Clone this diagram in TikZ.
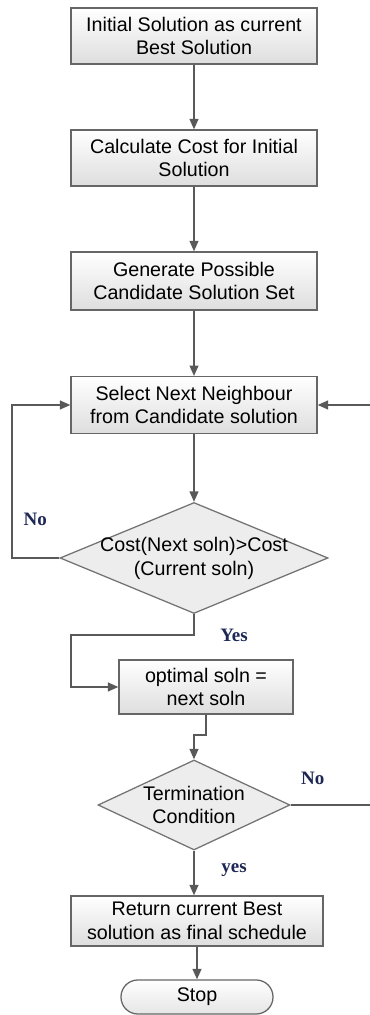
\documentclass[tikz,border=0pt]{standalone}
\usepackage{fontspec}
\setmainfont{Liberation Sans}
\newfontfamily\labelfont{Liberation Serif}
\usetikzlibrary{shapes.geometric,arrows.meta}
\definecolor{LabelBlue}{RGB}{30,40,85}
\begin{document}
\begin{tikzpicture}
[
Process/.style={rectangle,draw=black!60,top color=white,bottom color=black!13, line width=0.9pt, align=center, inner sep=0pt, font=\fontsize{14}{17}\selectfont},
Decision/.style={diamond,draw=black!55,fill=black!7, line width=0.9pt, inner sep=0pt},
DecisionText/.style={align=center, inner sep=0pt, font=\fontsize{14}{17}\selectfont},
Terminal/.style={rectangle,rounded corners=0.42cm,draw=black!60,top color=white,bottom color=black!10, line width=0.9pt, minimum width=3.8cm, minimum height=0.85cm, font=\fontsize{14}{17}\selectfont},
FlowArrow/.style={-{Triangle[length=2.6mm,width=2.2mm]}, draw=black!65, line width=1.1pt},
Label/.style={font=\labelfont\bfseries\fontsize{13.5}{16}\selectfont, text=LabelBlue},
]

\useasboundingbox (0,0) rectangle (9.25,25.375);

\node[Process, minimum width=6.15cm, minimum height=1.4cm] (init) at (4.85,24.475) {Initial Solution as current\\Best Solution};
\node[Process, minimum width=6.15cm, minimum height=1.4cm] (calc) at (4.85,21.425) {Calculate Cost for Initial\\Solution};
\node[Process, minimum width=6.15cm, minimum height=1.45cm] (gen) at (4.85,18.35) {Generate Possible\\Candidate Solution Set};
\node[Process, minimum width=6.15cm, minimum height=1.42cm] (select) at (4.85,15.25) {Select Next Neighbour\\from Candidate solution};

\node[Decision, minimum width=6.7cm, minimum height=2.775cm] (cost) at (4.85,11.425) {};
\node[DecisionText] (costtext) at (cost.center) {Cost(Next soln)>Cost\\(Current soln)};

\node[Process, minimum width=4.35cm, minimum height=1.35cm] (optimal) at (5.15,8.2) {optimal soln =\\next soln};

\node[Decision, minimum width=4.8cm, minimum height=2.25cm] (term) at (4.85,5.25) {};
\node[DecisionText] (termtext) at (term.center) {Termination\\Condition};

\node[Process, minimum width=6.3cm, minimum height=1.25cm] (return) at (4.925,2.35) {Return current Best\\solution as final schedule};
\node[Terminal] (stop) at (4.925,0.45) {Stop};

% main flow
\draw[FlowArrow] (init) -- (calc);
\draw[FlowArrow] (calc) -- (gen);
\draw[FlowArrow] (gen) -- (select);
\draw[FlowArrow] (select) -- (cost);

% no: back to select
\coordinate (noleft) at (0.3,11.425);
\draw[FlowArrow] (cost.west) -- (noleft) |- (select.west);
\node[Label] (nolabel) at (0.88,12.4) {No};

% yes: to optimal
\coordinate (yesbend) at (4.85,9.5);
\coordinate (yesleft) at (1.775,9.5);
\draw[FlowArrow] (cost.south) -- (yesbend) -- (yesleft) |- (optimal.west);
\node[Label] (yeslabel) at (5.85,9.5) {Yes};

\coordinate (optbend) at (5.15,7.0);
\draw[FlowArrow] (optimal.south) -- (optbend) -| (term.north);

% no: back to select from the right (runs past the edge)
\coordinate (noright) at (9.5,5.25);
\draw[FlowArrow] (term.east) -- (noright) |- (select.east);
\node[Label] (nolabel2) at (7.82,5.92) {No};

% yes: to return
\draw[FlowArrow] (term.south) -- (term.south |- return.north);
\node[Label] (yeslabel2) at (5.85,3.625) {yes};

\draw[FlowArrow] (return) -- (stop);

\end{tikzpicture}
\end{document}
